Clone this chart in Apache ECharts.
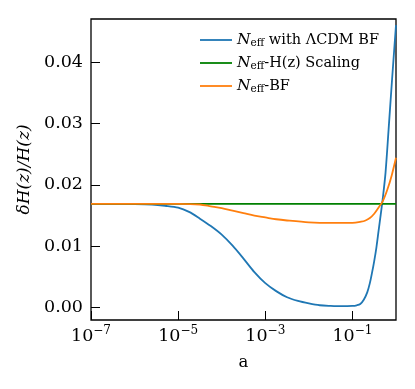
<!DOCTYPE html>
<html>
<head>
<meta charset="utf-8">
<script src="https://cdn.jsdelivr.net/npm/echarts@6/dist/echarts.min.js"></script>
<style>
  html, body { margin: 0; padding: 0; background: #fff; }
  #chart { width: 415px; height: 389px; }
</style>
</head>
<body>
<div id="chart"></div>
<script>
// log10(a) positions and dH/H values
const blueLogA = [-7, -6.5, -6, -5.6, -5.3, -5, -4.75, -4.5, -4.25, -4, -3.75, -3.5, -3.25, -3, -2.75, -2.5, -2.25, -2, -1.75, -1.5, -1.25, -1, -0.9, -0.82, -0.74, -0.66, -0.6, -0.55, -0.5, -0.45, -0.4, -0.35, -0.3, -0.24, -0.17, -0.09, 0];
const blueVals = [0.0169, 0.0169, 0.01688, 0.0168, 0.0166, 0.0163, 0.0156, 0.0145, 0.0133, 0.0119, 0.0101, 0.0080, 0.0058, 0.0040, 0.0027, 0.0017, 0.0011, 0.0007, 0.0004, 0.0003, 0.00025, 0.0003, 0.0004, 0.0006, 0.0013, 0.0025, 0.0040, 0.0057, 0.0076, 0.0098, 0.0125, 0.0152, 0.0180, 0.0220, 0.0290, 0.0372, 0.0460];

const greenLogA = [-7, -5, -3, -1, 0];
const greenVals = [0.0169, 0.0169, 0.0169, 0.0169, 0.0169];

const orangeLogA = [-7, -5, -4.5, -4.25, -4, -3.75, -3.5, -3.25, -3, -2.75, -2.5, -2, -1.5, -1, -0.8, -0.7, -0.6, -0.5, -0.4, -0.3, -0.2, -0.1, 0];
const orangeVals = [0.0169, 0.0169, 0.0168, 0.0165, 0.0162, 0.0158, 0.0154, 0.0150, 0.0147, 0.0144, 0.0142, 0.0139, 0.0138, 0.0138, 0.0140, 0.0142, 0.0146, 0.0153, 0.0163, 0.0174, 0.0192, 0.0215, 0.0244];

const xTicks = [-7, -5, -3, -1];
const yTicks = [0, 0.01, 0.02, 0.03, 0.04];

const names = ["blue", "green", "orange"];
const legendText = {
  blue: "{n|N}{s|eff} with ΛCDM BF",
  green: "{n|N}{s|eff}-H(z) Scaling",
  orange: "{n|N}{s|eff}-BF"
};

const zip = (xs, ys) => xs.map((x, i) => [x, ys[i]]);
const font = "DejaVu Serif";

const chart = echarts.init(document.getElementById("chart"));
chart.setOption({
  animation: false,
  grid: {
    left: 91, right: 19, top: 19, bottom: 69,
    show: true, borderColor: "#000", borderWidth: 1.3, backgroundColor: "transparent"
  },
  legend: {
    data: names,
    left: 200, top: 32,
    padding: 0,
    orient: "vertical",
    icon: "rect",
    itemWidth: 32, itemHeight: 1.8, itemGap: 6.5,
    formatter: (name) => legendText[name],
    textStyle: {
      fontFamily: font, fontSize: 14.5, color: "#000",
      rich: {
        n: { fontFamily: font, fontStyle: "italic", fontSize: 15.5, color: "#000", lineHeight: 17 },
        s: { fontFamily: font, fontSize: 10.5, color: "#000", verticalAlign: "bottom", lineHeight: 10 }
      }
    }
  },
  xAxis: {
    type: "value",
    min: -7, max: 0,
    name: "a",
    nameLocation: "middle",
    nameGap: 34,
    nameTextStyle: { fontFamily: font, fontSize: 16.5, color: "#000" },
    axisLine: { show: false, onZero: false },
    splitLine: { show: false },
    axisTick: { inside: true, length: 9, lineStyle: { color: "#000", width: 1 }, customValues: xTicks },
    axisLabel: {
      customValues: xTicks,
      margin: 5,
      formatter: (v) => "{b|10}{p|−" + Math.abs(v) + "}",
      rich: {
        b: { fontFamily: font, fontSize: 17.5, color: "#000", lineHeight: 22 },
        p: { fontFamily: font, fontSize: 12, color: "#000", verticalAlign: "top", lineHeight: 12 }
      }
    }
  },
  yAxis: {
    type: "value",
    min: -0.002, max: 0.047,
    name: "δH(z)/H(z)",
    nameLocation: "middle",
    nameGap: 55,
    nameTextStyle: { fontFamily: font, fontStyle: "italic", fontSize: 17, color: "#000" },
    axisLine: { show: false, onZero: false },
    splitLine: { show: false },
    axisTick: { inside: true, length: 9, lineStyle: { color: "#000", width: 1 }, customValues: yTicks },
    axisLabel: {
      customValues: yTicks,
      margin: 8,
      fontFamily: font, fontSize: 17.5, color: "#000",
      formatter: (v) => v.toFixed(2)
    }
  },
  series: [
    { name: "blue", type: "line", data: zip(blueLogA, blueVals), symbol: "none", smooth: 0.3,
      lineStyle: { color: "#1f77b4", width: 1.8 }, itemStyle: { color: "#1f77b4" } },
    { name: "green", type: "line", data: zip(greenLogA, greenVals), symbol: "none",
      lineStyle: { color: "#008000", width: 1.8 }, itemStyle: { color: "#008000" } },
    { name: "orange", type: "line", data: zip(orangeLogA, orangeVals), symbol: "none", smooth: 0.3,
      lineStyle: { color: "#ff7f0e", width: 1.8 }, itemStyle: { color: "#ff7f0e" } }
  ]
});
</script>
</body>
</html>
